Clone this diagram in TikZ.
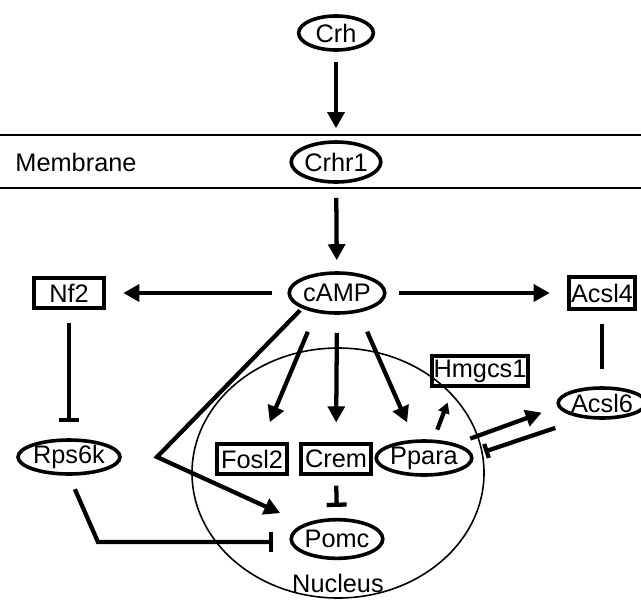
\documentclass[tikz,border=0pt]{standalone}
\usepackage{fontspec}
\setmainfont{Liberation Sans}
\usetikzlibrary{arrows.meta,shapes.geometric}
\begin{document}
\begin{tikzpicture}[x=0.75pt,y=-0.75pt,
  every node/.style={font=\fontsize{19}{21}\selectfont, inner sep=0pt},
  oval/.style={ellipse, draw, line width=2.7pt},
  gbox/.style={rectangle, draw, line width=2.9pt},
  act/.style={line width=3.2pt, -{Triangle[length=12pt,width=12.5pt]}},
  sact/.style={line width=3.2pt, -{Triangle[length=8pt,width=8.5pt]}},
  inh/.style={line width=3.2pt, -{Bar[width=15pt]}},
  sinh/.style={line width=3.2pt, -{Bar[width=11pt]}},
  plain/.style={line width=3.2pt},
  mem/.style={line width=1.6pt},
  nuc/.style={ellipse, draw, line width=1.2pt}
]
\useasboundingbox (0,0) rectangle (641,600);

% membrane
\draw[mem] (0,135) -- (641,135);
\draw[mem] (0,188) -- (641,188);
\node (memlabel) at (76,162) {Membrane};

% nucleus
\node[nuc, minimum width=219pt, minimum height=187.5pt] (nucleus) at (338,473) {};
\node (nuclab) at (338,583) {Nucleus};

% nodes
\node[oval, minimum width=56pt, minimum height=25.5pt] (crh) at (336,33) {Crh};
\node[oval, minimum width=64pt, minimum height=30pt] (crhr1) at (336,162) {Crhr1};
\node[oval, minimum width=61.5pt, minimum height=30pt] (camp) at (337,293) {cAMP};
\node[gbox, minimum width=53pt, minimum height=23pt] (nf2) at (69,293) {Nf2};
\node[gbox, minimum width=50pt, minimum height=24pt] (acsl4) at (602,293) {Acsl4};
\node[oval, minimum width=55.5pt, minimum height=22.5pt] (acsl6) at (602,403) {Acsl6};
\node[gbox, minimum width=72pt, minimum height=22pt] (hmgcs1) at (480,371) {Hmgcs1};
\node[oval, minimum width=76.5pt, minimum height=25.5pt] (rps6k) at (69,457) {Rps6k};
\node[gbox, minimum width=52.5pt, minimum height=22pt] (fosl2) at (252,459) {Fosl2};
\node[gbox, minimum width=53pt, minimum height=22pt] (crem) at (336,459) {Crem};
\node[oval, minimum width=60pt, minimum height=25.5pt] (ppara) at (424,458) {Ppara};
\node[oval, minimum width=61pt, minimum height=29pt] (pomc) at (337,539) {Pomc};

% connectors
\draw[act, shorten <=7.5pt, shorten >=9pt] (crh) -- (crhr1);
\draw[act, shorten <=10.5pt, shorten >=8.25pt] (crhr1) -- (camp);
\draw[act, shorten <=11.25pt, shorten >=12.75pt] (camp) -- (nf2);
\draw[act, shorten <=9pt, shorten >=12.75pt] (camp) -- (acsl4);
\draw[inh, shorten <=9.75pt, shorten >=12pt] (nf2) -- (rps6k);
\draw[plain, shorten <=9.75pt, shorten >=12.75pt] (acsl4) -- (acsl6);
\draw[act, shorten <=15.5pt, shorten >=16.5pt] (camp.223) -- (fosl2.61);
\draw[act, shorten <=13.5pt, shorten >=15pt] (camp.south) -- (crem.north);
\draw[act, shorten <=15.6pt, shorten >=14pt] (camp.318) -- (ppara.117);
\coordinate (ck) at (157,457);
\draw[act, shorten <=2pt, shorten >=19.5pt] (camp.south west) -- (ck) -- (pomc);
\draw[inh, shorten <=7.5pt, shorten >=8.25pt] (crem.south) -- (pomc.north);
\coordinate (rk) at (98,542);
\draw[inh, shorten <=11pt, shorten >=12pt] (rps6k.south) -- (rk) -- (rk -| pomc.west);
\draw[sact, shorten <=8pt, shorten >=12pt] (ppara.63) -- (hmgcs1.212);
\draw[act, shorten <=11.25pt, shorten >=12.75pt] (ppara.24) -- (acsl6.185);
\draw[sinh, shorten <=22.5pt, shorten >=9pt] (acsl6.220) -- (ppara.3);
\end{tikzpicture}
\end{document}
